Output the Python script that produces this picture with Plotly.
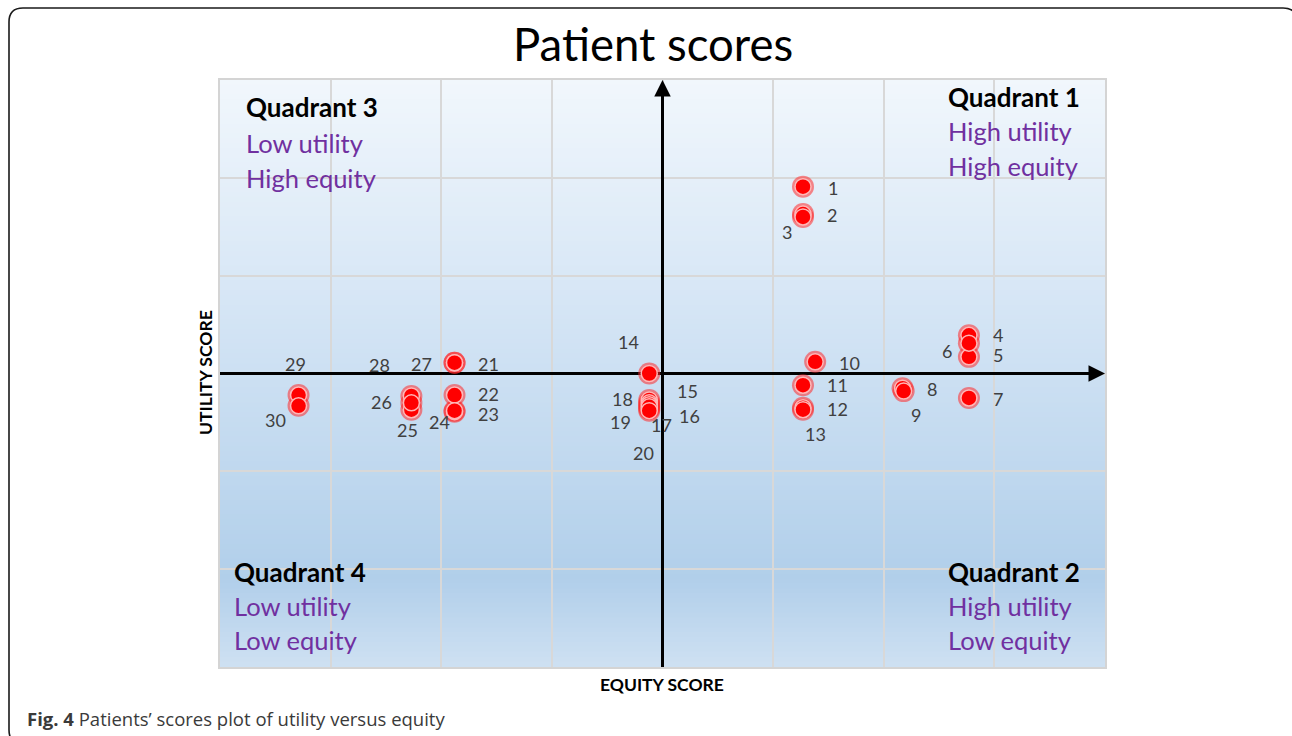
import plotly.graph_objects as go

# ---- data ----
patient_ids = [str(i) for i in range(1, 31)]
equity_score = [1.27, 1.27, 1.27, 2.77, 2.77, 2.77, 2.77, 2.17, 2.18, 1.38,
                1.27, 1.27, 1.27, -0.12, -0.12, -0.12, -0.12, -0.12, -0.12, -0.12,
                -1.88, -1.88, -1.88, -1.88, -2.27, -2.27, -1.88, -2.27, -3.29, -3.29]
utility_score = [1.91, 1.63, 1.60, 0.39, 0.17, 0.31, -0.25, -0.15, -0.18, 0.12,
                 -0.12, -0.35, -0.37, 0.00, -0.27, -0.30, -0.36, -0.32, -0.34, -0.38,
                 0.11, -0.22, -0.39, -0.38, -0.37, -0.23, 0.11, -0.30, -0.22, -0.33]

# label offsets in pixels (dx right, dy down) - styling only
label_dx = [30, 29, -16, 29, 29, -22, 29, 29, 12, 34, 35, 35, 13, -21, 38, 40, 12, -27, -29, -6,
            34, 34, 34, -15, -4, -30, -33, -32, -3, -23]
label_dy = [1, 1, 15, 0, -2, 8, 1, 1, 24, 1, 0, 1, 24, -32, -9, 13, 16, -6, 15, 42,
            1, -1, 2, 11, 20, 6, 1, -38, -31, 14]

X_RANGE = [-4, 4]
Y_RANGE = [-3, 3]

FONT = "Lato"
PURPLE = "#7030a0"

# plot area in pixels
L, R, T, B = 220, 1105, 80, 667
W, H = 1292, 736
pw, ph = R - L, B - T


def px_x(p):
    return (p - L) / pw


def px_y(p):
    return (B - p) / ph


fig = go.Figure()

# markers: soft outer halo + solid core
fig.add_trace(go.Scatter(
    x=equity_score, y=utility_score, mode="markers",
    marker=dict(size=22, color="rgba(255,40,40,0.55)", line=dict(width=0)),
    hoverinfo="skip", showlegend=False))
fig.add_trace(go.Scatter(
    x=equity_score, y=utility_score, mode="markers",
    marker=dict(size=16, color="#ff0000", line=dict(width=1.5, color="rgba(255,190,190,0.95)")),
    text=patient_ids, hovertemplate="Patient %{text}<br>Equity %{x}<br>Utility %{y}<extra></extra>",
    showlegend=False))

shapes = []
# gradient background strips
stops = [(0.0, (241, 247, 252)), (0.35, (216, 231, 246)), (0.85, (177, 207, 234)), (1.0, (206, 224, 242))]


def grad(t):
    for (t0, c0), (t1, c1) in zip(stops[:-1], stops[1:]):
        if t0 <= t <= t1:
            f = (t - t0) / (t1 - t0)
            return tuple(round(a + (b - a) * f) for a, b in zip(c0, c1))
    return stops[-1][1]


N = 120
for i in range(N):
    t = (i + 0.5) / N
    c = grad(t)
    shapes.append(dict(type="rect", xref="paper", yref="paper", x0=0, x1=1,
                       y0=1 - (i + 1) / N - 0.001, y1=1 - i / N + 0.001,
                       fillcolor="rgb(%d,%d,%d)" % c, line=dict(width=0), layer="below"))

# axes through origin
shapes.append(dict(type="line", xref="x", yref="y", x0=X_RANGE[0], x1=X_RANGE[1] - 0.05, y0=0, y1=0,
                   line=dict(color="black", width=3), layer="between"))
shapes.append(dict(type="line", xref="x", yref="y", x0=0, x1=0, y0=Y_RANGE[0], y1=Y_RANGE[1] - 0.05,
                   line=dict(color="black", width=3), layer="between"))

# outer rounded frame (right and bottom edges run off the page, as in the reference)
x0f, y0f, x1f, y1f, r = 9, 8, 1297, 744, 14
path = ("M {a},{b} L {c},{b} Q {d},{b} {d},{e} L {d},{f} Q {d},{g} {c},{g} "
        "L {a},{g} Q {h},{g} {h},{f} L {h},{e} Q {h},{b} {a},{b} Z").format(
    a=px_x(x0f + r), b=px_y(y0f), c=px_x(x1f - r), d=px_x(x1f), e=px_y(y0f + r),
    f=px_y(y1f - r), g=px_y(y1f), h=px_x(x0f))
shapes.append(dict(type="path", xref="paper", yref="paper", path=path,
                   line=dict(color="#1a1a1a", width=1.6), layer="above"))

annotations = []
# arrow heads
annotations.append(dict(x=X_RANGE[1], y=0, ax=X_RANGE[1] - 0.3, ay=0, xref="x", yref="y",
                        axref="x", ayref="y", text="", showarrow=True, arrowhead=2,
                        arrowsize=1.1, arrowwidth=3, arrowcolor="black"))
annotations.append(dict(x=0, y=Y_RANGE[1], ax=0, ay=Y_RANGE[1] - 0.3, xref="x", yref="y",
                        axref="x", ayref="y", text="", showarrow=True, arrowhead=2,
                        arrowsize=1.1, arrowwidth=3, arrowcolor="black"))

# point labels
for pid, xv, yv, dx, dy in zip(patient_ids, equity_score, utility_score, label_dx, label_dy):
    annotations.append(dict(x=xv, y=yv, xref="x", yref="y", text=pid, showarrow=False,
                            xshift=dx, yshift=-dy, font=dict(family=FONT, size=18, color="#404040")))

# quadrant texts
quads = [
    (946, [97, 131, 166], ["Quadrant 1", "High utility", "High equity"]),
    (244, [107, 143, 178], ["Quadrant 3", "Low utility", "High equity"]),
    (232, [572, 606, 640], ["Quadrant 4", "Low utility", "Low equity"]),
    (946, [572, 606, 640], ["Quadrant 2", "High utility", "Low equity"]),
]
for qx, qys, lines in quads:
    for j, (qy, txt) in enumerate(zip(qys, lines)):
        annotations.append(dict(x=px_x(qx), y=px_y(qy), xref="paper", yref="paper",
                                xanchor="left", yanchor="middle", showarrow=False,
                                text="<b>%s</b>" % txt if j == 0 else txt,
                                font=dict(family=FONT, size=26 if j == 0 else 25.5,
                                          color="black" if j == 0 else PURPLE)))

# title
annotations.append(dict(x=px_x(653), y=px_y(43), xref="paper", yref="paper", text="Patient scores",
                        showarrow=False, xanchor="center", yanchor="middle",
                        font=dict(family=FONT, size=45.5, color="black")))
# axis titles
annotations.append(dict(x=px_x(662), y=px_y(684), xref="paper", yref="paper", text="<b>EQUITY SCORE</b>",
                        showarrow=False, xanchor="center", yanchor="middle",
                        font=dict(family=FONT, size=17.5, color="black")))
annotations.append(dict(x=px_x(205), y=px_y(373), xref="paper", yref="paper", text="<b>UTILITY SCORE</b>",
                        showarrow=False, xanchor="center", yanchor="middle", textangle=-90,
                        font=dict(family=FONT, size=17.5, color="black")))
# caption
annotations.append(dict(x=px_x(25), y=px_y(718), xref="paper", yref="paper",
                        text="<b>Fig. 4</b> Patients’ scores plot of utility versus equity",
                        showarrow=False, xanchor="left", yanchor="middle",
                        font=dict(family="Open Sans", size=18.5, color="#3a3a3a")))

fig.update_layout(
    width=W, height=H,
    margin=dict(l=L, r=W - R, t=T, b=H - B, pad=0),
    paper_bgcolor="white", plot_bgcolor="white",
    shapes=shapes, annotations=annotations, showlegend=False,
    xaxis=dict(range=X_RANGE, dtick=1, tick0=0, showticklabels=False, ticks="",
               showgrid=True, gridcolor="#d8d8d8", gridwidth=2, zeroline=False,
               showline=True, mirror=True, linecolor="#d4d4d4", linewidth=2, fixedrange=True),
    yaxis=dict(range=Y_RANGE, dtick=1, tick0=0, showticklabels=False, ticks="",
               showgrid=True, gridcolor="#d8d8d8", gridwidth=2, zeroline=False,
               showline=True, mirror=True, linecolor="#d4d4d4", linewidth=2, fixedrange=True),
)

fig.write_html("out.html", config={"displayModeBar": False},
               post_script="document.body.style.margin='0';document.body.style.overflow='hidden';")
